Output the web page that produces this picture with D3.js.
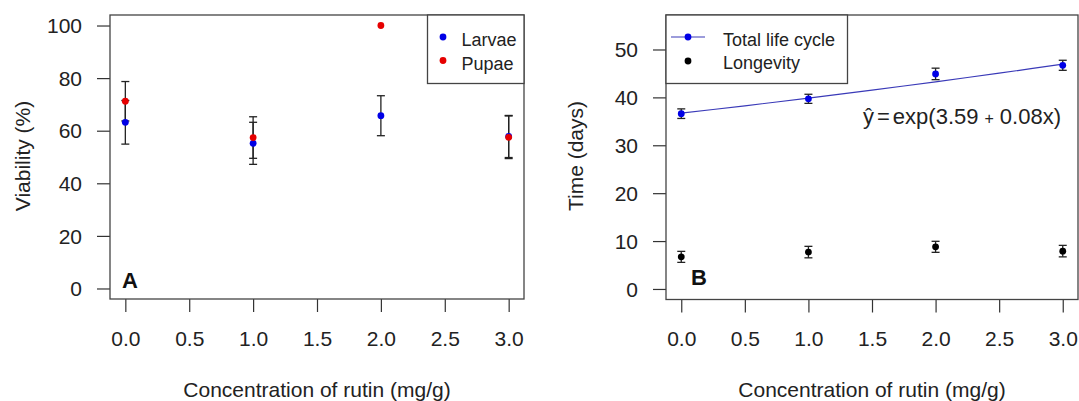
<!DOCTYPE html>
<html>
<head>
<meta charset="utf-8">
<script src="https://cdn.jsdelivr.net/npm/d3@7/dist/d3.min.js"></script>
<style>
  html, body { margin: 0; padding: 0; background: #fff; }
  svg { display: block; font-family: "Liberation Sans", Arial, sans-serif; }
</style>
</head>
<body>
<svg id="chart" width="1079" height="401"></svg>
<script>
// ---------------- DATA ----------------
const concentrations = [0, 1, 2, 3];
const xTicks = [0, 0.5, 1, 1.5, 2, 2.5, 3];

// Panel A: viability (%)
const larvaeMean = [63.2, 55.2, 65.7, 57.8];
const larvaeErr  = [8.3, 8.0, 7.6, 8.0];
const pupaeMean  = [71.2, 57.4, 100, 57.5];
const pupaeErr   = [7.5, 7.9, 0, 8.1];
const yTicksA = [0, 20, 40, 60, 80, 100];

// Panel B: time (days)
const totalMean = [36.6, 39.7, 44.9, 46.7];
const totalErr  = [1.0, 0.95, 1.2, 1.05];
const longevMean = [6.7, 7.7, 8.8, 7.9];
const longevErr  = [1.15, 1.2, 1.15, 1.2];
const yTicksB = [0, 10, 20, 30, 40, 50];
// fitted curve y = exp(a + b x)
const fitIntercept = 3.603;
const fitSlope = 0.082;
const fitX = [0, 0.25, 0.5, 0.75, 1, 1.25, 1.5, 1.75, 2, 2.25, 2.5, 2.75, 3];

// ---------------- DRAWING ----------------
const svg = d3.select("#chart");
const fmtX = d3.format(".1f");
const tickFont = 21;
const titleFont = 21;
const legendFont = 18;

function panel(opts) {
  const g = svg.append("g");
  const x = d3.scaleLinear().domain([-0.12, 3.12]).range([opts.left, opts.right]);
  const y = d3.scaleLinear().domain(opts.yDomain).range([opts.bottom, opts.top]);

  // x axis
  const xa = g.append("g")
    .attr("transform", `translate(0,${opts.bottom})`)
    .call(d3.axisBottom(x).tickValues(xTicks).tickFormat(fmtX).tickSize(13).tickSizeOuter(0));
  xa.select(".domain").remove();
  xa.selectAll("line").attr("stroke", "#333").attr("stroke-width", 1.2);
  xa.selectAll("text").attr("y", 46.5).attr("dy", null)
    .attr("font-size", tickFont).attr("fill", "#222").attr("font-family", "Liberation Sans, Arial, sans-serif");

  // y axis
  const ya = g.append("g")
    .attr("transform", `translate(${opts.left},0)`)
    .call(d3.axisLeft(y).tickValues(opts.yTicks).tickFormat(d3.format("d")).tickSize(13).tickSizeOuter(0));
  ya.select(".domain").remove();
  ya.selectAll("line").attr("stroke", "#333").attr("stroke-width", 1.2);
  ya.selectAll("text").attr("x", -28).attr("dy", "0.34em")
    .attr("font-size", tickFont).attr("fill", "#222").attr("font-family", "Liberation Sans, Arial, sans-serif");

  // box
  g.append("rect")
    .attr("x", opts.left).attr("y", opts.top)
    .attr("width", opts.right - opts.left).attr("height", opts.bottom - opts.top)
    .attr("fill", "none").attr("stroke", "#444").attr("stroke-width", 1.3);

  // titles
  g.append("text")
    .attr("x", (opts.left + opts.right) / 2).attr("y", 397)
    .attr("text-anchor", "middle").attr("font-size", titleFont).attr("fill", "#222")
    .text("Concentration of rutin (mg/g)");
  g.append("text")
    .attr("transform", `translate(${opts.yTitleX},${156}) rotate(-90)`)
    .attr("text-anchor", "middle").attr("font-size", titleFont).attr("fill", "#222")
    .text(opts.yTitle);

  // panel letter
  g.append("text")
    .attr("x", opts.letterX).attr("y", opts.letterY)
    .attr("font-size", 22).attr("font-weight", "bold").attr("fill", "#111")
    .text(opts.letter);

  return { g, x, y };
}

function errorBars(p, xs, means, errs) {
  const cap = 4;
  const eb = p.g.append("g").attr("stroke", "#222").attr("stroke-width", 1.3).attr("fill", "none");
  xs.forEach((xv, i) => {
    if (!errs[i]) return;
    const cx = p.x(xv), y1 = p.y(means[i] - errs[i]), y2 = p.y(means[i] + errs[i]);
    eb.append("line").attr("x1", cx).attr("x2", cx).attr("y1", y1).attr("y2", y2);
    eb.append("line").attr("x1", cx - cap).attr("x2", cx + cap).attr("y1", y1).attr("y2", y1);
    eb.append("line").attr("x1", cx - cap).attr("x2", cx + cap).attr("y1", y2).attr("y2", y2);
  });
}

function points(p, xs, means, color) {
  p.g.append("g").selectAll("circle")
    .data(xs.map((xv, i) => [xv, means[i]]))
    .join("circle")
    .attr("cx", d => p.x(d[0])).attr("cy", d => p.y(d[1]))
    .attr("r", 3.4).attr("fill", color);
}

// ---- Panel A ----
const A = panel({
  left: 110, right: 524, top: 15, bottom: 299,
  yDomain: [-4, 104], yTicks: yTicksA,
  yTitle: "Viability (%)", yTitleX: 30,
  letter: "A", letterX: 122, letterY: 288
});
errorBars(A, concentrations, larvaeMean, larvaeErr);
errorBars(A, concentrations, pupaeMean, pupaeErr);
points(A, concentrations, larvaeMean, "#0000e6");
points(A, concentrations, pupaeMean, "#e60000");

// legend A
const legA = A.g.append("g");
legA.append("rect").attr("x", 427.5).attr("y", 15).attr("width", 524 - 427.5).attr("height", 68.5)
  .attr("fill", "#fff").attr("stroke", "#444").attr("stroke-width", 1.3);
[["Larvae", "#0000e6"], ["Pupae", "#e60000"]].forEach((d, i) => {
  legA.append("circle").attr("cx", 443).attr("cy", 37 + i * 23.5).attr("r", 3.4).attr("fill", d[1]);
  legA.append("text").attr("x", 461.5).attr("y", 46 + i * 23.5)
    .attr("font-size", legendFont).attr("fill", "#222").text(d[0]);
});

// ---- Panel B ----
const B = panel({
  left: 666, right: 1078, top: 15, bottom: 299.5,
  yDomain: [-2.2, 57.2], yTicks: yTicksB,
  yTitle: "Time (days)", yTitleX: 583,
  letter: "B", letterX: 691, letterY: 285
});
const line = d3.line().x(d => B.x(d)).y(d => B.y(Math.exp(fitIntercept + fitSlope * d)));
B.g.append("path").datum(fitX).attr("d", line)
  .attr("fill", "none").attr("stroke", "#3a3ab8").attr("stroke-width", 1.2);
errorBars(B, concentrations, totalMean, totalErr);
errorBars(B, concentrations, longevMean, longevErr);
points(B, concentrations, totalMean, "#0000e6");
points(B, concentrations, longevMean, "#000");

// equation
const eq = B.g.append("text").attr("x", 863).attr("y", 124)
  .attr("font-size", 22).attr("fill", "#222");
eq.append("tspan").text("ŷ");
eq.append("tspan").attr("dx", 3).text("=");
eq.append("tspan").attr("dx", 3).text("exp(3.59");
eq.append("tspan").attr("dx", 6).attr("font-size", 16).text("+");
eq.append("tspan").attr("dx", 6).text("0.08x)");

// legend B
const legB = B.g.append("g");
legB.append("rect").attr("x", 666).attr("y", 15).attr("width", 847.5 - 666).attr("height", 68.5)
  .attr("fill", "#fff").attr("stroke", "#444").attr("stroke-width", 1.3);
legB.append("line").attr("x1", 671).attr("x2", 705).attr("y1", 37).attr("y2", 37)
  .attr("stroke", "#3a3ab8").attr("stroke-width", 1.2);
legB.append("circle").attr("cx", 688).attr("cy", 37).attr("r", 3.4).attr("fill", "#0000e6");
legB.append("circle").attr("cx", 688).attr("cy", 61).attr("r", 3.4).attr("fill", "#000");
legB.append("text").attr("x", 723).attr("y", 45.5).attr("font-size", legendFont).attr("fill", "#222").text("Total life cycle");
legB.append("text").attr("x", 723).attr("y", 68.5).attr("font-size", legendFont).attr("fill", "#222").text("Longevity");
</script>
</body>
</html>
